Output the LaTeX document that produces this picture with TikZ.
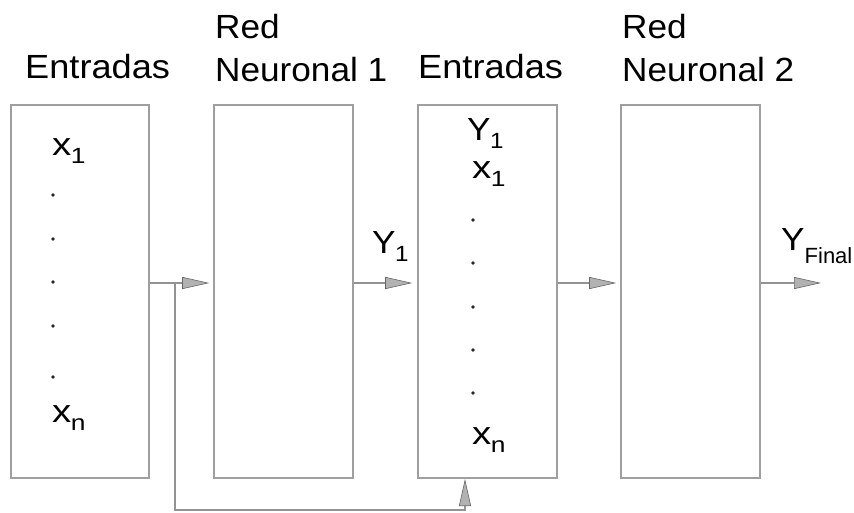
\documentclass[tikz,border=0pt]{standalone}
\usepackage{fontspec}
\setmainfont{Liberation Sans}
\usetikzlibrary{arrows.meta}
\newcommand\sbs[1]{\kern-0.5pt\raisebox{-8pt}{\fontsize{22}{22}\selectfont #1}}
\newcommand\hsc[2]{\scalebox{#1}[1]{#2}}
\begin{document}
\begin{tikzpicture}[x=1pt,y=-1pt,
  box/.style={draw=gray!75, line width=1.6pt, fill=white, inner sep=0pt},
  conn/.style={draw=gray!85, line width=1.1pt, -{Triangle[length=27pt,width=12pt,fill=gray!60,color=gray!80!black,line width=0.6pt]}},
  hdr/.style={anchor=base west, inner sep=0pt, font=\fontsize{33.5}{40}\selectfont},
  lbl/.style={anchor=base west, inner sep=0pt, font=\fontsize{32}{38}\selectfont},
  dotm/.style={circle, fill=gray!30!black, inner sep=0pt, minimum size=3.8pt}]
\useasboundingbox (0,0) rectangle (854,512);
% boxes
\node[box, minimum width=138pt, minimum height=373pt] (b1) at (80,291.5) {};
\node[box, minimum width=139pt, minimum height=373pt] (b2) at (283.5,291.5) {};
\node[box, minimum width=139pt, minimum height=373pt] (b3) at (487.5,291.5) {};
\node[box, minimum width=139pt, minimum height=373pt] (b4) at (690.5,291.5) {};
% headers
\node[hdr] (h1) at (25,78) {\hsc{1.08}{Entradas}};
\node[hdr] (h2a) at (215,38) {\hsc{1.05}{Red}};
\node[hdr] (h2b) at (215,81) {\hsc{1.05}{Neuronal 1}};
\node[hdr] (h3) at (418,78) {\hsc{1.08}{Entradas}};
\node[hdr] (h4a) at (622,38) {\hsc{1.05}{Red}};
\node[hdr] (h4b) at (622,81) {\hsc{1.05}{Neuronal 2}};
% box1 contents
\node[lbl] (x1a) at (52,155) {\hsc{1.2}{x\sbs{1}}};
\foreach \yy [count=\i] in {195,239,282,326,377} \node[dotm] (da\i) at (53,\yy) {};
\node[lbl] (xna) at (52,422) {\hsc{1.2}{x\sbs{n}}};
% box3 contents
\node[lbl] (y1b) at (467,140) {\hsc{1.1}{Y\sbs{1}}};
\node[lbl] (x1b) at (472,178) {\hsc{1.2}{x\sbs{1}}};
\foreach \yy [count=\i] in {220,263,307,350,393} \node[dotm] (db\i) at (473,\yy) {};
\node[lbl] (xnb) at (472,444) {\hsc{1.2}{x\sbs{n}}};
% connectors
\coordinate (fb) at (175,283);
\coordinate (fbc) at (175,510);
\coordinate (fbd) at (465,510);
\coordinate (b3in) at (465,479);
\coordinate (out) at (821,283);
\draw[conn] ([yshift=8.5pt]b1.east) -- ([xshift=-4pt,yshift=8.5pt]b2.west);
\draw[conn] ([yshift=8.5pt]b2.east) -- ([xshift=-5pt,yshift=8.5pt]b3.west);
\draw[conn] ([yshift=8.5pt]b3.east) -- ([xshift=-4pt,yshift=8.5pt]b4.west);
\draw[conn] ([yshift=8.5pt]b4.east) -- (out);
\draw[conn] (fb) -- (fbc) -- (fbd) -- (b3in);
% arrow labels
\node[lbl] (ly1) at (372,253) {\hsc{1.1}{Y\sbs{1}}};
\node[lbl] (lyf) at (781,250) {\hsc{1.1}{Y}\raisebox{-13pt}{\fontsize{22}{22}\selectfont Final}};
\end{tikzpicture}
\end{document}
